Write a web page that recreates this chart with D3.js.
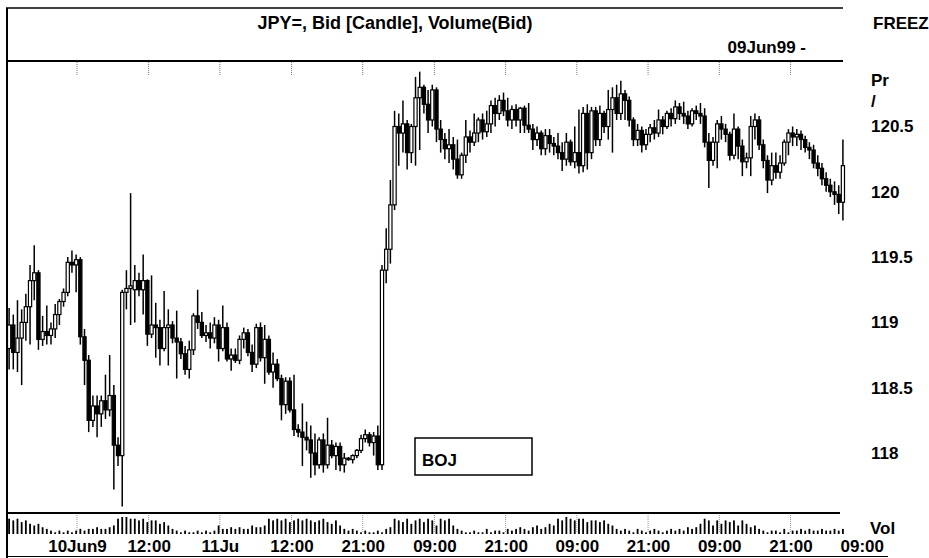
<!DOCTYPE html>
<html><head><meta charset="utf-8">
<script src="https://cdn.jsdelivr.net/npm/d3@7"></script>
<style>
body{margin:0;background:#fff}
svg{display:block}
text{font-family:"Liberation Sans",Arial,sans-serif;fill:#000}
</style>
</head><body>
<svg id="c" width="929" height="558"></svg>
<script>
const opens=[
118.80,118.98,118.77,118.88,119.00,119.12,119.32,119.38,118.87,118.93,
118.90,118.95,119.06,119.16,119.23,119.46,119.44,119.48,118.89,118.71,
118.25,118.36,118.30,118.40,118.33,118.44,118.06,117.98,119.23,119.26,
119.25,119.32,119.25,119.32,118.91,118.98,118.96,118.80,118.96,118.98,
118.88,118.85,118.76,118.64,118.79,119.05,119.00,118.90,118.92,118.88,
118.98,118.80,118.96,118.72,118.75,118.71,118.87,118.92,118.77,118.68,
118.96,118.73,118.87,118.62,118.68,118.57,118.37,118.55,118.33,118.18,
118.16,118.12,118.10,118.00,117.91,118.10,117.91,118.06,117.98,118.05,
117.91,117.96,117.95,117.98,118.02,118.11,118.14,118.08,118.13,117.91,
119.40,119.56,119.90,120.50,120.45,120.52,120.30,120.50,120.72,120.80,
120.67,120.55,120.78,120.48,120.40,120.33,120.36,120.25,120.13,120.28,
120.42,120.38,120.45,120.55,120.46,120.52,120.66,120.60,120.70,120.62,
120.55,120.63,120.55,120.64,120.51,120.48,120.40,120.45,120.33,120.43,
120.37,120.35,120.30,120.25,120.38,120.23,120.30,120.20,120.60,120.30,
120.62,120.40,120.60,120.50,120.63,120.72,120.60,120.75,120.70,120.55,
120.40,120.47,120.36,120.44,120.49,120.45,120.55,120.50,120.60,120.56,
120.65,120.60,120.58,120.52,120.62,120.60,120.58,120.38,120.24,120.38,
120.52,120.48,120.44,120.28,120.48,120.35,120.23,120.26,120.50,120.55,
120.36,120.24,120.09,120.20,120.15,120.22,120.38,120.45,120.42,120.44,
120.40,120.34,120.32,120.22,120.18,120.10,120.05,120.00,119.98,119.92];
const highs=[
119.11,119.06,119.17,119.10,119.22,119.44,119.59,119.40,119.05,119.13,
119.00,119.14,119.18,119.26,119.50,119.55,119.52,119.50,118.95,118.75,
118.44,118.44,118.44,118.60,118.75,118.52,118.12,119.25,119.40,119.99,
119.44,119.38,119.52,119.33,119.36,119.15,119.02,119.24,119.10,119.01,
119.09,118.88,118.82,118.86,119.07,119.25,119.08,118.98,119.00,119.04,
119.02,119.13,119.00,118.80,118.80,118.90,118.96,118.95,118.83,118.99,
119.00,118.98,118.90,118.77,118.72,118.60,118.58,118.58,118.60,118.22,
118.38,118.24,118.21,118.15,118.12,118.15,118.27,118.10,118.08,118.08,
118.00,117.97,117.99,118.03,118.14,118.18,118.16,118.16,118.21,119.44,
119.72,120.09,120.62,120.60,120.70,120.55,120.52,120.88,120.92,120.82,
120.78,120.82,120.80,120.55,120.45,120.48,120.42,120.40,120.30,120.55,
120.47,120.60,120.57,120.60,120.62,120.70,120.72,120.74,120.76,120.72,
120.66,120.67,120.65,120.66,120.68,120.52,120.50,120.47,120.48,120.48,
120.42,120.45,120.38,120.45,120.40,120.50,120.63,120.65,120.67,120.65,
120.65,120.66,120.62,120.78,120.80,120.82,120.85,120.78,120.73,120.57,
120.52,120.50,120.48,120.52,120.55,120.63,120.58,120.62,120.64,120.70,
120.68,120.69,120.62,120.64,120.66,120.68,120.64,120.45,120.42,120.55,
120.58,120.52,120.46,120.60,120.50,120.40,120.30,120.58,120.60,120.58,
120.40,120.28,120.30,120.30,120.28,120.40,120.48,120.50,120.48,120.47,
120.43,120.38,120.36,120.28,120.22,120.15,120.10,120.08,120.05,120.40];
const lows=[
118.64,118.64,118.62,118.52,118.86,118.83,119.17,118.79,118.82,118.83,
118.83,118.88,118.98,119.12,119.20,119.38,119.23,118.83,118.52,118.16,
118.20,118.12,118.20,118.26,118.28,117.72,117.90,117.59,119.10,118.98,
119.00,119.20,119.06,118.82,118.88,118.73,118.67,118.78,118.67,118.84,
118.57,118.72,118.60,118.57,118.75,118.95,118.88,118.85,118.80,118.84,
118.70,118.78,118.70,118.63,118.69,118.68,118.80,118.74,118.62,118.65,
118.70,118.53,118.60,118.50,118.55,118.25,118.30,118.31,118.13,118.12,
117.90,118.02,117.81,117.83,117.88,117.85,117.88,117.96,117.87,117.86,
117.85,117.94,117.92,117.96,118.00,118.08,118.05,117.98,117.87,117.87,
119.30,119.45,119.86,120.20,120.30,120.17,120.22,120.20,120.32,120.60,
120.45,120.50,120.38,120.30,120.25,120.22,120.17,120.10,120.10,120.22,
120.30,120.35,120.38,120.40,120.42,120.45,120.50,120.55,120.58,120.50,
120.48,120.50,120.45,120.45,120.45,120.32,120.35,120.28,120.28,120.30,
120.28,120.25,120.16,120.20,120.20,120.18,120.14,120.15,120.17,120.25,
120.35,120.35,120.45,120.40,120.30,120.55,120.55,120.55,120.50,120.35,
120.35,120.30,120.32,120.38,120.40,120.42,120.44,120.48,120.50,120.52,
120.55,120.52,120.48,120.50,120.55,120.52,120.34,120.03,120.20,120.18,
120.40,120.38,120.24,120.25,120.25,120.12,120.18,120.12,120.40,120.32,
120.18,119.99,120.05,120.10,120.10,120.20,120.28,120.35,120.35,120.32,
120.30,120.25,120.18,120.12,120.05,120.00,119.96,119.90,119.83,119.78];
const closes=[
118.98,118.77,118.88,119.00,119.12,119.32,119.38,118.87,118.93,118.90,
118.95,119.06,119.16,119.23,119.46,119.44,119.48,118.89,118.71,118.25,
118.36,118.30,118.40,118.33,118.44,118.06,117.98,119.23,119.26,119.28,
119.32,119.25,119.32,118.91,118.98,118.96,118.80,118.96,118.98,118.88,
118.85,118.76,118.64,118.79,119.05,119.00,118.90,118.92,118.88,118.98,
118.80,118.96,118.72,118.75,118.71,118.87,118.92,118.77,118.68,118.96,
118.73,118.87,118.62,118.68,118.57,118.37,118.55,118.33,118.18,118.16,
118.12,118.10,118.00,117.91,118.10,117.91,118.06,117.98,118.05,117.91,
117.96,117.95,117.98,118.02,118.11,118.14,118.08,118.13,117.91,119.40,
119.56,119.90,120.50,120.45,120.52,120.30,120.50,120.72,120.80,120.67,
120.55,120.78,120.48,120.40,120.33,120.36,120.25,120.13,120.28,120.42,
120.38,120.45,120.55,120.46,120.52,120.66,120.60,120.70,120.62,120.55,
120.63,120.55,120.64,120.51,120.48,120.40,120.45,120.33,120.43,120.37,
120.35,120.30,120.25,120.38,120.23,120.30,120.20,120.60,120.30,120.62,
120.40,120.60,120.50,120.63,120.72,120.60,120.75,120.70,120.55,120.40,
120.47,120.36,120.44,120.49,120.45,120.55,120.50,120.60,120.56,120.65,
120.60,120.58,120.52,120.62,120.60,120.58,120.38,120.24,120.38,120.52,
120.48,120.44,120.28,120.48,120.35,120.23,120.26,120.50,120.55,120.36,
120.24,120.09,120.20,120.15,120.22,120.38,120.45,120.42,120.44,120.40,
120.34,120.32,120.22,120.18,120.10,120.05,120.00,119.98,119.92,120.20];
const volumes=[
9,8,9,7,8,6,5,6,4,3,
2,1,2,1,2,1,2,3,2,3,
3,4,3,3,4,5,9,10,10,9,
9,8,9,7,8,8,6,7,5,3,
2,1,2,1,1,2,1,2,1,2,
5,3,3,4,3,4,3,3,5,4,
4,5,9,8,9,8,9,7,8,9,
8,9,8,7,8,9,7,6,8,5,
3,2,3,2,1,2,1,1,2,1,
3,4,9,8,7,9,6,8,9,7,
9,8,5,9,8,9,5,3,2,1,
1,2,1,1,3,1,2,2,1,3,
2,3,4,3,2,4,5,3,4,6,
5,9,8,10,9,8,9,9,7,8,
8,7,8,6,5,3,2,3,2,1,
3,2,1,2,3,2,1,2,3,2,
3,2,4,3,4,6,9,8,5,8,
6,8,7,8,5,8,6,4,5,3,
2,1,2,2,1,3,1,2,2,3,
2,3,2,2,3,2,2,3,2,3];
const xTickSlots=[16.7,33.8,50.8,67.9,84.9,102,119,136,153,170,187,204];
const xTickLabels=["10Jun9","12:00","11Ju","12:00","21:00","09:00","21:00","09:00","21:00","09:00","21:00","09:00"];
const yTickValues=[118,118.5,119,119.5,120,120.5];

const svg=d3.select("#c");
svg.append("rect").attr("width",929).attr("height",558).attr("fill","#fff");
const N=opens.length;
const x=d3.scaleLinear().domain([0,N]).range([7,845]);
const y=d3.scaleLinear().domain([118,120.5]).range([453,126.5]);
const vy=d3.scaleLinear().domain([0,10]).range([534,517]);

// frame
const frame=svg.append("g").attr("stroke","#000").attr("fill","none");
frame.append("line").attr("x1",7).attr("x2",7).attr("y1",8).attr("y2",558).attr("stroke-width",2);
frame.append("line").attr("x1",6).attr("x2",843).attr("y1",8).attr("y2",8).attr("stroke-width",1.5);
frame.append("line").attr("x1",6).attr("x2",843).attr("y1",61).attr("y2",61).attr("stroke-width",2);
frame.append("line").attr("x1",6).attr("x2",840).attr("y1",513).attr("y2",513).attr("stroke-width",2);
frame.append("line").attr("x1",6).attr("x2",888).attr("y1",556.5).attr("y2",556.5).attr("stroke-width",1.2);

// tick marks
const inSlots=xTickSlots.filter(s=>s<N);
svg.append("g").selectAll("line").data(inSlots).join("line")
  .attr("x1",d=>x(d)).attr("x2",d=>x(d)).attr("y1",62).attr("y2",75)
  .attr("stroke","#777").attr("stroke-width",1).attr("stroke-dasharray","1,1");
svg.append("g").selectAll("line").data(inSlots).join("line")
  .attr("x1",d=>x(d)).attr("x2",d=>x(d)).attr("y1",515).attr("y2",533)
  .attr("stroke","#999").attr("stroke-width",1).attr("stroke-dasharray","1,1");

// volume
svg.append("g").selectAll("rect").data(volumes).join("rect")
  .attr("x",(d,i)=>x(i+0.5)-0.9).attr("width",1.8)
  .attr("y",d=>vy(d)).attr("height",d=>vy(0)-vy(d)).attr("fill","#000");

// candles
const idx=d3.range(N);
const cg=svg.append("g");
cg.selectAll("line").data(idx).join("line")
  .attr("x1",i=>x(i+0.5)).attr("x2",i=>x(i+0.5))
  .attr("y1",i=>y(highs[i])).attr("y2",i=>y(lows[i]))
  .attr("stroke","#000").attr("stroke-width",1.5);
cg.selectAll("rect").data(idx).join("rect")
  .attr("x",i=>x(i+0.5)-1.6).attr("width",3.2)
  .attr("y",i=>y(Math.max(opens[i],closes[i])))
  .attr("height",i=>Math.max(1,Math.abs(y(opens[i])-y(closes[i]))))
  .attr("fill",i=>closes[i]>=opens[i]?"#fff":"#000")
  .attr("stroke","#000").attr("stroke-width",1.2);

// y axis
const ya=svg.append("g").attr("transform","translate(871,0)")
  .call(d3.axisRight(y).tickValues(yTickValues).tickSize(0).tickPadding(0).tickFormat(d=>String(d)));
ya.select(".domain").remove();
ya.selectAll("text").attr("font-size",17).attr("font-weight","bold")
  .attr("font-family","'Liberation Sans',Arial,sans-serif").attr("fill","#000");

// x axis
const xa=svg.append("g").attr("transform","translate(0,540)")
  .call(d3.axisBottom(x).tickValues(xTickSlots).tickSize(0).tickPadding(0).tickFormat((d,i)=>xTickLabels[i]));
xa.select(".domain").remove();
xa.selectAll("text").attr("font-size",17).attr("font-weight","bold")
  .attr("font-family","'Liberation Sans',Arial,sans-serif").attr("fill","#000");

// texts
const T=(t,xx,yy,opt={})=>svg.append("text").attr("x",xx).attr("y",yy)
  .attr("font-size",opt.size||17).attr("font-weight","bold")
  .attr("text-anchor",opt.anchor||"start").text(t);
T("JPY=, Bid [Candle], Volume(Bid)",395,29,{anchor:"middle",size:18});
T("FREEZ",873,29,{size:17});
T("09Jun99 -",806,53,{anchor:"end",size:17});
T("Pr",871,86);
T("/",871,107);
T("Vol",870,534);

// BOJ annotation
svg.append("rect").attr("x",415).attr("y",438).attr("width",117).attr("height",37)
  .attr("fill","none").attr("stroke","#000").attr("stroke-width",1.5);
T("BOJ",422,466);
</script>
</body></html>
